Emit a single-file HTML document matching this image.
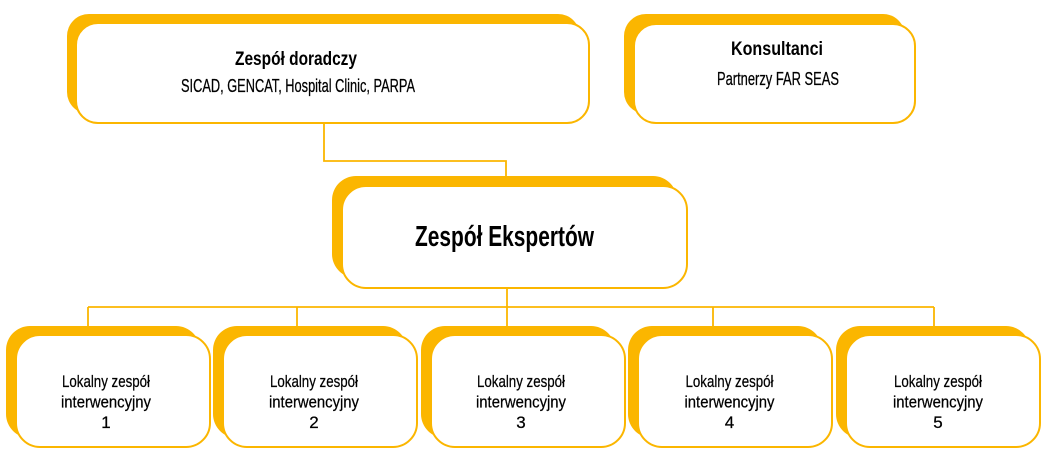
<!DOCTYPE html>
<html>
<head>
<meta charset="utf-8">
<style>
  html,body{margin:0;padding:0;background:#fff;}
  svg{display:block;}
  text{font-family:"Liberation Sans", sans-serif;fill:#000;}
  .r{stroke:#000;stroke-width:0.25;}
</style>
</head>
<body>
<svg width="1043" height="473" viewBox="0 0 1043 473" xmlns="http://www.w3.org/2000/svg">
  <g fill="none" stroke="#FBB600" stroke-width="1.8">
    <polyline points="324,124 324,161 506,161 506,177"/>
    <line x1="507" y1="289" x2="507" y2="327"/>
    <line x1="88" y1="307" x2="934" y2="307"/>
    <line x1="88" y1="307" x2="88" y2="327"/>
    <line x1="297" y1="307" x2="297" y2="327"/>
    <line x1="713" y1="307" x2="713" y2="327"/>
    <line x1="934" y1="307" x2="934" y2="327"/>
  </g>

  <!-- Zespół doradczy box -->
  <rect x="67" y="14" width="513" height="100" rx="22" fill="#FBB600"/>
  <rect x="76" y="23" width="513" height="100" rx="22" fill="#fff" stroke="#FBB600" stroke-width="2"/>
  <text x="235" y="65" font-size="19.5" font-weight="bold" textLength="122" lengthAdjust="spacingAndGlyphs">Zespół doradczy</text>
  <text class="r" x="181" y="92" font-size="18" textLength="234" lengthAdjust="spacingAndGlyphs">SICAD, GENCAT, Hospital Clinic, PARPA</text>

  <!-- Konsultanci box -->
  <rect x="624" y="14" width="281" height="100" rx="22" fill="#FBB600"/>
  <rect x="634" y="24" width="281" height="99" rx="22" fill="#fff" stroke="#FBB600" stroke-width="2"/>
  <text x="731" y="55" font-size="19.5" font-weight="bold" textLength="92" lengthAdjust="spacingAndGlyphs">Konsultanci</text>
  <text class="r" x="717" y="85" font-size="18" textLength="122" lengthAdjust="spacingAndGlyphs">Partnerzy FAR SEAS</text>

  <!-- Zespół Ekspertów box -->
  <rect x="332" y="176" width="345" height="102" rx="24" fill="#FBB600"/>
  <rect x="342" y="186" width="345" height="102" rx="24" fill="#fff" stroke="#FBB600" stroke-width="2"/>
  <text x="415" y="246" font-size="28.5" font-weight="bold" textLength="179" lengthAdjust="spacingAndGlyphs">Zespół Ekspertów</text>

  <!-- bottom boxes -->
  <g>
    <rect x="6" y="326" width="194" height="112" rx="24" fill="#FBB600"/>
    <rect x="16" y="335" width="194" height="112" rx="24" fill="#fff" stroke="#FBB600" stroke-width="2"/>
    <rect x="213" y="326" width="194" height="112" rx="24" fill="#FBB600"/>
    <rect x="223" y="335" width="194" height="112" rx="24" fill="#fff" stroke="#FBB600" stroke-width="2"/>
    <rect x="421" y="326" width="194" height="112" rx="24" fill="#FBB600"/>
    <rect x="431" y="335" width="194" height="112" rx="24" fill="#fff" stroke="#FBB600" stroke-width="2"/>
    <rect x="628" y="326" width="194" height="112" rx="24" fill="#FBB600"/>
    <rect x="638" y="335" width="194" height="112" rx="24" fill="#fff" stroke="#FBB600" stroke-width="2"/>
    <rect x="836" y="326" width="194" height="112" rx="24" fill="#FBB600"/>
    <rect x="846" y="335" width="194" height="112" rx="24" fill="#fff" stroke="#FBB600" stroke-width="2"/>
  </g>

  <g font-size="17" text-anchor="middle" class="r">
    <text x="106" y="387" textLength="88" lengthAdjust="spacingAndGlyphs">Lokalny zespół</text>
    <text x="106" y="407.5" textLength="90" lengthAdjust="spacingAndGlyphs">interwencyjny</text>
    <text x="106" y="428">1</text>

    <text x="314" y="387" textLength="88" lengthAdjust="spacingAndGlyphs">Lokalny zespół</text>
    <text x="314" y="407.5" textLength="90" lengthAdjust="spacingAndGlyphs">interwencyjny</text>
    <text x="314" y="428">2</text>

    <text x="521" y="387" textLength="88" lengthAdjust="spacingAndGlyphs">Lokalny zespół</text>
    <text x="521" y="407.5" textLength="90" lengthAdjust="spacingAndGlyphs">interwencyjny</text>
    <text x="521" y="428">3</text>

    <text x="729.5" y="387" textLength="88" lengthAdjust="spacingAndGlyphs">Lokalny zespół</text>
    <text x="729.5" y="407.5" textLength="90" lengthAdjust="spacingAndGlyphs">interwencyjny</text>
    <text x="729.5" y="428">4</text>

    <text x="938" y="387" textLength="88" lengthAdjust="spacingAndGlyphs">Lokalny zespół</text>
    <text x="938" y="407.5" textLength="90" lengthAdjust="spacingAndGlyphs">interwencyjny</text>
    <text x="938" y="428">5</text>
  </g>
</svg>
</body>
</html>
